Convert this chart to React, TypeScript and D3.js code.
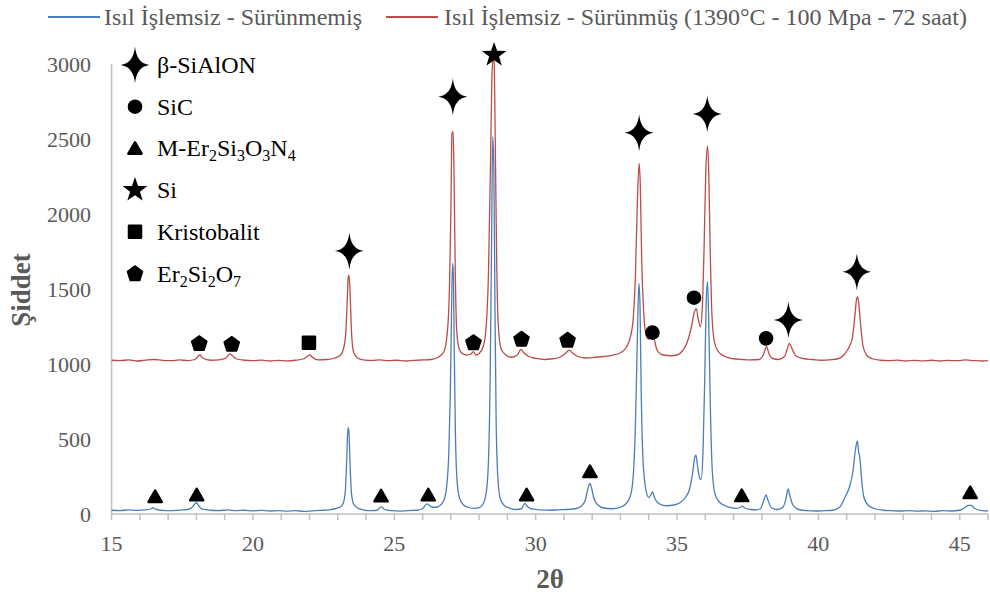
import React from 'react';
import * as d3 from 'd3';

const seriesNames = [
  'Isıl İşlemsiz - Sürünmemiş',
  'Isıl İşlemsiz - Sürünmüş (1390°C - 100 Mpa - 72 saat)',
];
const xTicks = [15, 20, 25, 30, 35, 40, 45];
const xMinorTicks = d3.range(15, 47, 1);
const yTicks = [0, 500, 1000, 1500, 2000, 2500, 3000];

// [2θ, intensity]
const blueSeries: [number, number][] = [
  [15.0, 25], [15.3, 22], [15.6, 28], [15.9, 24], [16.2, 27], [16.4, 35], [16.46, 42], [16.55, 33], [16.8, 24],
  [17.1, 22], [17.4, 26], [17.7, 30], [17.85, 45], [17.95, 68], [18.01, 75], [18.08, 55], [18.2, 32], [18.5, 25],
  [18.8, 23], [19.1, 27], [19.4, 22], [19.7, 25], [20.0, 21], [20.3, 24], [20.6, 20], [20.9, 23], [21.2, 19],
  [21.5, 22], [21.8, 18], [22.1, 21], [22.4, 24], [22.7, 28], [22.9, 35], [23.1, 48], [23.2, 75], [23.27, 160],
  [23.32, 380], [23.36, 575], [23.39, 560], [23.43, 360], [23.48, 150], [23.55, 70], [23.7, 40], [23.9, 28],
  [24.2, 22], [24.4, 25], [24.5, 45], [24.56, 48], [24.65, 30], [24.9, 22], [25.2, 19], [25.5, 23], [25.8, 25],
  [26.0, 35], [26.15, 67], [26.22, 60], [26.35, 45], [26.5, 45], [26.6, 55], [26.75, 90], [26.85, 180],
  [26.93, 420], [26.98, 800], [27.02, 1300], [27.06, 1670], [27.09, 1600], [27.12, 1100], [27.16, 550],
  [27.22, 220], [27.3, 110], [27.45, 60], [27.6, 45], [27.8, 38], [28.0, 42], [28.15, 70], [28.25, 140],
  [28.33, 350], [28.39, 900], [28.44, 1800], [28.48, 2515], [28.52, 2300], [28.56, 1400], [28.6, 650],
  [28.66, 250], [28.75, 100], [28.9, 55], [29.1, 38], [29.3, 30], [29.5, 35], [29.62, 71], [29.7, 50],
  [29.9, 32], [30.2, 27], [30.5, 25], [30.8, 28], [31.1, 30], [31.4, 35], [31.6, 50], [31.75, 90], [31.85, 170],
  [31.92, 204], [31.97, 180], [32.05, 110], [32.2, 60], [32.4, 40], [32.7, 35], [33.0, 45], [33.2, 70],
  [33.35, 120], [33.45, 250], [33.53, 600], [33.6, 1200], [33.65, 1538], [33.69, 1400], [33.73, 850],
  [33.8, 350], [33.9, 160], [34.0, 110], [34.08, 130], [34.13, 149], [34.2, 110], [34.35, 70], [34.6, 55],
  [34.9, 60], [35.1, 75], [35.3, 110], [35.45, 170], [35.55, 270], [35.63, 380], [35.67, 393], [35.72, 330],
  [35.8, 240], [35.85, 230], [35.92, 420], [35.98, 900], [36.03, 1400], [36.08, 1549], [36.12, 1300],
  [36.18, 700], [36.25, 280], [36.35, 130], [36.5, 80], [36.7, 55], [36.9, 42], [37.1, 38], [37.25, 45],
  [37.31, 52], [37.4, 40], [37.6, 30], [37.8, 28], [37.95, 35], [38.05, 80], [38.15, 127], [38.22, 90],
  [38.35, 40], [38.55, 30], [38.75, 45], [38.85, 100], [38.93, 167], [38.98, 130], [39.1, 60], [39.3, 30],
  [39.6, 22], [39.9, 20], [40.2, 22], [40.5, 25], [40.75, 45], [40.95, 115], [41.1, 180], [41.22, 280],
  [41.32, 440], [41.38, 487], [41.42, 420], [41.47, 371], [41.52, 250], [41.6, 120], [41.75, 60], [42.0, 35],
  [42.3, 25], [42.6, 22], [42.9, 20], [43.2, 23], [43.5, 19], [43.8, 21], [44.1, 18], [44.4, 22], [44.7, 20],
  [45.0, 25], [45.2, 45], [45.3, 58], [45.4, 57], [45.55, 35], [45.8, 22], [46.0, 20],
];

const redSeries: [number, number][] = [
  [15.0, 1025], [15.3, 1022], [15.6, 1028], [15.9, 1020], [16.2, 1026], [16.5, 1030], [16.8, 1024], [17.1, 1022],
  [17.4, 1027], [17.7, 1023], [17.95, 1030], [18.05, 1050], [18.13, 1060], [18.22, 1040], [18.5, 1025],
  [18.8, 1028], [19.05, 1040], [19.18, 1068], [19.25, 1060], [19.4, 1035], [19.7, 1025], [20.0, 1022],
  [20.3, 1026], [20.6, 1020], [20.9, 1024], [21.2, 1021], [21.5, 1025], [21.8, 1035], [21.95, 1055],
  [22.02, 1060], [22.1, 1045], [22.3, 1028], [22.6, 1030], [22.9, 1040], [23.1, 1060], [23.2, 1100],
  [23.28, 1200], [23.33, 1400], [23.37, 1580], [23.4, 1593], [23.44, 1450], [23.49, 1200], [23.56, 1080],
  [23.7, 1040], [23.9, 1028], [24.2, 1024], [24.5, 1027], [24.8, 1022], [25.1, 1025], [25.4, 1020],
  [25.7, 1024], [26.0, 1027], [26.3, 1030], [26.55, 1045], [26.75, 1080], [26.87, 1200], [26.95, 1500],
  [27.0, 2000], [27.04, 2540], [27.08, 2549], [27.11, 2300], [27.15, 1700], [27.2, 1250], [27.28, 1110],
  [27.4, 1070], [27.55, 1060], [27.7, 1065], [27.8, 1082], [27.88, 1060], [28.0, 1070], [28.15, 1120],
  [28.25, 1250], [28.33, 1600], [28.4, 2300], [28.45, 2900], [28.49, 3030], [28.53, 3010], [28.57, 2500],
  [28.62, 1700], [28.68, 1250], [28.78, 1100], [28.95, 1060], [29.15, 1045], [29.35, 1060], [29.48, 1098],
  [29.56, 1080], [29.75, 1050], [30.0, 1038], [30.3, 1030], [30.6, 1035], [30.85, 1045], [31.05, 1070],
  [31.19, 1093], [31.3, 1075], [31.5, 1050], [31.8, 1040], [32.1, 1045], [32.4, 1050], [32.7, 1058],
  [33.0, 1075], [33.2, 1110], [33.35, 1180], [33.45, 1300], [33.53, 1600], [33.6, 2100], [33.66, 2338],
  [33.7, 2200], [33.75, 1700], [33.82, 1350], [33.9, 1200], [34.0, 1165], [34.07, 1185], [34.14, 1204],
  [34.2, 1160], [34.3, 1090], [34.5, 1060], [34.8, 1055], [35.0, 1060], [35.2, 1090], [35.35, 1140],
  [35.5, 1240], [35.62, 1350], [35.68, 1371], [35.75, 1300], [35.83, 1249], [35.9, 1400], [35.96, 1800],
  [36.02, 2300], [36.08, 2453], [36.12, 2300], [36.17, 1800], [36.23, 1350], [36.32, 1150], [36.45, 1085],
  [36.7, 1050], [37.0, 1035], [37.3, 1030], [37.6, 1027], [37.9, 1030], [38.05, 1060], [38.17, 1116],
  [38.25, 1070], [38.4, 1035], [38.6, 1030], [38.8, 1050], [38.9, 1100], [38.97, 1138], [39.05, 1110],
  [39.2, 1055], [39.5, 1035], [39.8, 1030], [40.1, 1025], [40.4, 1028], [40.7, 1035], [40.9, 1060],
  [41.05, 1100], [41.12, 1127], [41.2, 1170], [41.28, 1300], [41.35, 1430], [41.39, 1449], [41.44, 1380],
  [41.5, 1250], [41.58, 1120], [41.7, 1060], [41.9, 1035], [42.2, 1025], [42.5, 1022], [42.8, 1026],
  [43.1, 1020], [43.4, 1024], [43.7, 1021], [44.0, 1025], [44.3, 1020], [44.6, 1024], [44.9, 1022],
  [45.2, 1027], [45.5, 1023], [45.8, 1020], [46.0, 1022],
];

// phase markers [2θ, intensity]
const sialonMarks: [number, number][] = [[23.41, 1753], [27.07, 2782], [33.66, 2542], [36.07, 2667], [38.94, 1293], [41.36, 1615]];
const sicMarks: [number, number][] = [[34.13, 1209], [35.6, 1442], [38.15, 1171]];
const erSiONMarks: [number, number][] = [[16.54, 116], [18.01, 127], [24.53, 120], [26.2, 127], [29.68, 127], [31.92, 282], [37.29, 122], [45.37, 142]];
const siMarks: [number, number][] = [[28.53, 3060]];
const kristobalitMarks: [number, number][] = [[21.98, 1142]];
const erSiOMarks: [number, number][] = [[18.1, 1138], [19.25, 1133], [27.8, 1144], [29.5, 1167], [31.13, 1160]];

const W = 990;
const H = 599;
const BLUE = '#4A7EBB';
const RED = '#BE4B48';
const AXIS = '#BFBFBF';
const TXT = '#595959';
const FONT = 'Liberation Serif, Times New Roman, serif';

const sparkle = (rx: number, ry: number, c: number) =>
  `M0,${-ry}Q${c},${-c} ${rx},0Q${c},${c} 0,${ry}Q${-c},${c} ${-rx},0Q${-c},${-c} 0,${-ry}Z`;
const starPath = (ro: number, ri: number) => {
  const pts: string[] = [];
  for (let i = 0; i < 10; i++) {
    const r = i % 2 === 0 ? ro : ri;
    const a = -Math.PI / 2 + (i * Math.PI) / 5;
    pts.push(`${(r * Math.cos(a)).toFixed(2)},${(r * Math.sin(a)).toFixed(2)}`);
  }
  return 'M' + pts.join('L') + 'Z';
};
const polyPath = (n: number, r: number, dy = 0) => {
  const pts: string[] = [];
  for (let i = 0; i < n; i++) {
    const a = -Math.PI / 2 + (i * 2 * Math.PI) / n;
    pts.push(`${(r * Math.cos(a)).toFixed(2)},${(r * Math.sin(a) + dy).toFixed(2)}`);
  }
  return 'M' + pts.join('L') + 'Z';
};

const SHAPES: Record<string, { d: string; stroke: number }> = {
  sialon: { d: sparkle(14.5, 18.5, 1.6), stroke: 0 },
  sic: { d: d3.symbol(d3.symbolCircle, Math.PI * 7.3 * 7.3)() as string, stroke: 0 },
  tri: { d: polyPath(3, 7.6, 1.5), stroke: 2.5 },
  si: { d: starPath(13, 5.2), stroke: 0 },
  sq: { d: 'M-6,-6H6V6H-6Z', stroke: 2.5 },
  pent: { d: polyPath(5, 7.4, 0.5), stroke: 2.5 },
};

const Marker = ({ x, y, kind }: { x: number; y: number; kind: string }) => {
  const s = SHAPES[kind];
  return (
    <path
      d={s.d}
      transform={`translate(${x},${y})`}
      fill="#000"
      stroke={s.stroke ? '#000' : 'none'}
      strokeWidth={s.stroke}
      strokeLinejoin="round"
    />
  );
};

const SUB = 16;

export default function App() {
  const x = d3.scaleLinear().domain([15, 46]).range([111.6, 988]);
  const y = d3.scaleLinear().domain([0, 3000]).range([514, 64]);
  const line = d3
    .line<[number, number]>()
    .x((d) => x(d[0]))
    .y((d) => y(d[1]))
    .curve(d3.curveMonotoneX);

  const markerSets: { data: [number, number][]; kind: string }[] = [
    { data: sialonMarks, kind: 'sialon' },
    { data: sicMarks, kind: 'sic' },
    { data: erSiONMarks, kind: 'tri' },
    { data: siMarks, kind: 'si' },
    { data: kristobalitMarks, kind: 'sq' },
    { data: erSiOMarks, kind: 'pent' },
  ];

  const legendRows: { kind: string; label: React.ReactNode }[] = [
    { kind: 'sialon', label: 'β-SiAlON' },
    { kind: 'sic', label: 'SiC' },
    {
      kind: 'tri',
      label: (
        <>
          M-Er<tspan fontSize={SUB} dy={5}>2</tspan>
          <tspan dy={-5}>Si</tspan><tspan fontSize={SUB} dy={5}>3</tspan>
          <tspan dy={-5}>O</tspan><tspan fontSize={SUB} dy={5}>3</tspan>
          <tspan dy={-5}>N</tspan><tspan fontSize={SUB} dy={5}>4</tspan>
        </>
      ),
    },
    { kind: 'si', label: 'Si' },
    { kind: 'sq', label: 'Kristobalit' },
    {
      kind: 'pent',
      label: (
        <>
          Er<tspan fontSize={SUB} dy={5}>2</tspan>
          <tspan dy={-5}>Si</tspan><tspan fontSize={SUB} dy={5}>2</tspan>
          <tspan dy={-5}>O</tspan><tspan fontSize={SUB} dy={5}>7</tspan>
        </>
      ),
    },
  ];

  return (
    <svg
      width={W}
      height={H}
      style={{ position: 'absolute', left: 0, top: 0, background: '#fff', fontFamily: FONT }}
    >
      <rect width={W} height={H} fill="#fff" />
      {/* top legend */}
      <line x1={48} x2={100} y1={17} y2={17} stroke={BLUE} strokeWidth={2} />
      <text x={104} y={25} fontSize={24} fill={TXT}>{seriesNames[0]}</text>
      <line x1={386} x2={438} y1={17} y2={17} stroke={RED} strokeWidth={2} />
      <text x={444} y={25} fontSize={24} fill={TXT}>{seriesNames[1]}</text>

      {/* axes */}
      <line x1={x(15)} x2={x(15)} y1={y(3000)} y2={y(0)} stroke={AXIS} strokeWidth={1.5} />
      <line x1={x(15)} x2={x(46)} y1={y(0)} y2={y(0)} stroke={AXIS} strokeWidth={1.5} />
      {xMinorTicks.map((t) => (
        <line key={t} x1={x(t)} x2={x(t)} y1={y(0)} y2={y(0) + 6} stroke={AXIS} strokeWidth={1.5} />
      ))}
      {xTicks.map((t) => (
        <text key={t} x={x(t)} y={551} fontSize={22} fill={TXT} textAnchor="middle">{t}</text>
      ))}
      {yTicks.map((t) => (
        <text key={t} x={91} y={y(t) + 8} fontSize={22} fill={TXT} textAnchor="end">{t}</text>
      ))}
      <text x={550} y={588} fontSize={27} fontWeight="bold" fill={TXT} textAnchor="middle">2θ</text>
      <text
        transform="translate(30,290) rotate(-90)"
        fontSize={27}
        fontWeight="bold"
        fill={TXT}
        textAnchor="middle"
      >
        Şiddet
      </text>

      {/* series */}
      <path d={line(blueSeries) as string} fill="none" stroke={BLUE} strokeWidth={1.3} />
      <path d={line(redSeries) as string} fill="none" stroke={RED} strokeWidth={1.3} />

      {/* markers */}
      {markerSets.map((ms) =>
        ms.data.map((d, i) => <Marker key={ms.kind + i} x={x(d[0])} y={y(d[1])} kind={ms.kind} />)
      )}

      {/* phase legend */}
      {legendRows.map((r, i) => {
        const cy = 65 + i * 41.7;
        return (
          <g key={r.kind}>
            <Marker x={135} y={cy} kind={r.kind} />
            <text x={157} y={cy + 8} fontSize={24} fill="#000">{r.label}</text>
          </g>
        );
      })}
    </svg>
  );
}
